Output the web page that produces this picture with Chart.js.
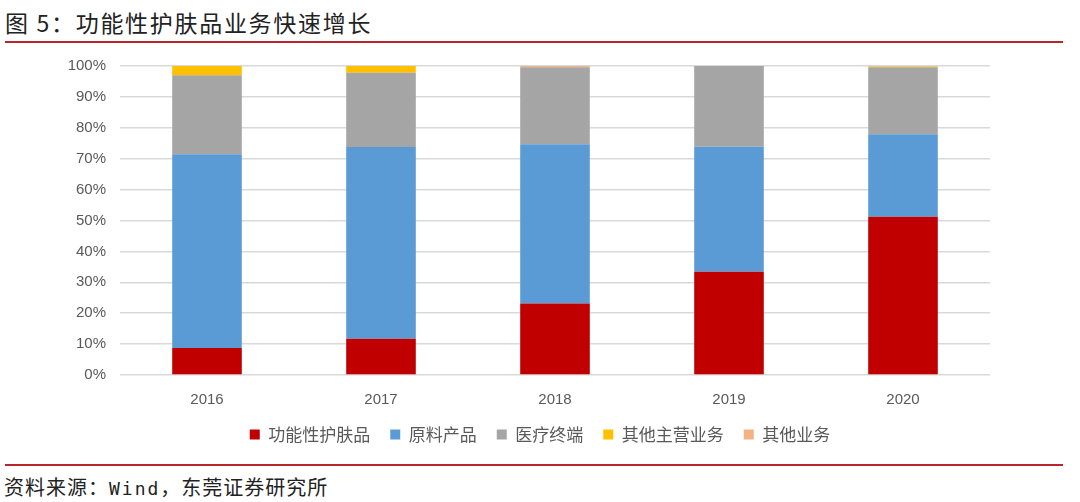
<!DOCTYPE html>
<html>
<head>
<meta charset="utf-8">
<script src="https://cdn.jsdelivr.net/npm/chart.js@4/dist/chart.umd.min.js"></script>
<style>
  body { margin: 0; background: #fff; width: 1080px; height: 502px; overflow: hidden; position: relative; font-family: "Noto Sans CJK SC", sans-serif; }
  #title { position: absolute; left: 5px; top: 5px; font-size: 23px; color: #222; letter-spacing: 1.7px; }
  .rule { position: absolute; left: 5px; width: 1058px; height: 2px; background: #b8262b; }
  #source { position: absolute; left: 4px; top: 472px; font-size: 20px; color: #222; letter-spacing: 1px; }
  #source span { font-family: "DejaVu Sans Mono", monospace; font-size: 18px; letter-spacing: 2px; }
  #chart-container { position: absolute; left: 0; top: 43px; width: 1080px; height: 414px; }
</style>
</head>
<body>
<div id="title">图 5：功能性护肤品业务快速增长</div>
<div class="rule" style="top:41px"></div>
<div id="chart-container"><canvas id="chart"></canvas></div>
<div class="rule" style="top:464px"></div>
<div id="source">资料来源：<span>Wind</span>，东莞证券研究所</div>
<script>
const years = ["2016", "2017", "2018", "2019", "2020"]
const seriesNames = ["功能性护肤品", "原料产品", "医疗终端", "其他主营业务", "其他业务"]
const skincare = [8.7, 11.7, 23.1, 33.4, 51.2]
const rawMaterial = [62.7, 62.1, 51.6, 40.5, 26.7]
const medical = [25.6, 24.0, 24.9, 26.1, 21.7]
const otherMain = [3.0, 2.2, 0.1, 0.0, 0.2]
const otherBiz = [0.0, 0.0, 0.3, 0.0, 0.2]
const yTicks = [0, 10, 20, 30, 40, 50, 60, 70, 80, 90, 100]

const colors = ["#C00000", "#5B9BD5", "#A5A5A5", "#FFC000", "#F4B183"]
const values = [skincare, rawMaterial, medical, otherMain, otherBiz]

let datasets = seriesNames.map((name, i) => {
  return {
    label: name,
    data: values[i],
    backgroundColor: colors[i],
    borderWidth: 0,
    categoryPercentage: 1,
    barPercentage: 0.4,
  }
})

let ctx = document.getElementById('chart').getContext('2d')
let myChart = new Chart(ctx, {
  type: 'bar',
  data: { labels: years, datasets: datasets },
  options: {
    responsive: true,
    maintainAspectRatio: false,
    animation: false,
    layout: { padding: { top: 1, right: 0, bottom: 4, left: 0 } },
    plugins: {
      tooltip: { enabled: false },
      legend: {
        position: 'bottom',
        labels: {
          boxWidth: 10,
          boxHeight: 10,
          padding: 20,
          color: '#595959',
          font: { family: '"Noto Sans CJK SC"', size: 17 },
        },
      },
    },
    scales: {
      x: {
        stacked: true,
        afterFit: (scale) => { scale.height = 31 },
        grid: { display: false },
        border: { display: false },
        ticks: { color: '#595959', font: { family: '"Liberation Sans"', size: 15 }, padding: 8 },
      },
      y: {
        stacked: true,
        min: 0,
        max: 100,
        afterFit: (scale) => { scale.width = 120 },
        afterBuildTicks: (scale) => { scale.ticks = yTicks.map(v => ({ value: v })) },
        grid: { color: '#D9D9D9', lineWidth: 1.5, drawTicks: false },
        border: { display: false },
        ticks: {
          color: '#595959',
          padding: 14,
          font: { family: '"Liberation Sans"', size: 15 },
          callback: (v) => v + '%',
        },
      },
      // empty right axis, only keeps the plot off the right edge so the legend stays centred
      yRight: {
        position: 'right',
        min: 0,
        max: 100,
        afterFit: (scale) => { scale.width = 90 },
        grid: { display: false },
        border: { display: false },
        ticks: { display: false },
      },
    },
  },
})
</script>
</body>
</html>
